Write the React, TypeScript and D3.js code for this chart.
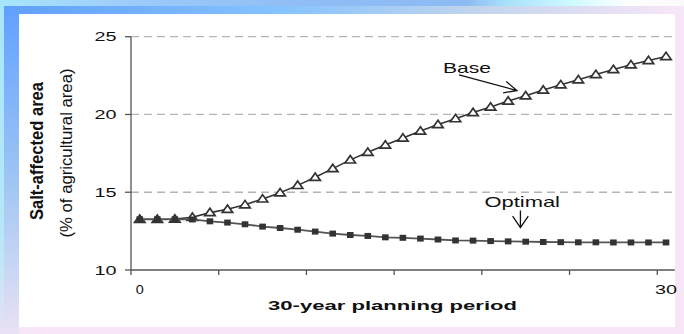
import React, { useRef, useEffect } from 'react';
import * as d3 from 'd3';

// 30-year planning period, one point per year
const periods = [0, 1, 2, 3, 4, 5, 6, 7, 8, 9, 10, 11, 12, 13, 14, 15, 16, 17, 18, 19, 20, 21, 22, 23, 24, 25, 26, 27, 28, 29, 30];

// salt-affected area, % of agricultural area
const baseValues = [
  13.26, 13.26, 13.28, 13.39, 13.69, 13.9, 14.2, 14.57, 14.97, 15.44, 15.96,
  16.52, 17.08, 17.57, 18.04, 18.49, 18.94, 19.35, 19.73, 20.12, 20.48,
  20.86, 21.2, 21.57, 21.91, 22.23, 22.57, 22.89, 23.2, 23.47, 23.73,
];
const optimalValues = [
  13.26, 13.26, 13.26, 13.25, 13.13, 13.05, 12.94, 12.79, 12.7, 12.59, 12.47,
  12.34, 12.25, 12.19, 12.1, 12.07, 12.02, 11.96, 11.9, 11.89, 11.86,
  11.84, 11.82, 11.8, 11.79, 11.78, 11.78, 11.77, 11.77, 11.77, 11.77,
];

const yTicks = [10, 15, 20, 25];
const gridValues = [15, 20, 25];
const xTickPeriods = [0, 5, 10, 15, 20, 25, 30];
const xTickLabels = ['0', '30'];
const xLabelPeriods = [0, 30];

// annotation arrows, in data units [period, value]
const baseArrow = { from: [18.2, 22.55], to: [21.5, 21.54] };
const optimalArrow = { from: [21.7, 13.82], to: [21.7, 12.72] };

const W = 684;
const H = 334;
const FONT = '"Liberation Sans", Arial, sans-serif';

export default function App() {
  const ref = useRef<SVGSVGElement>(null);

  useEffect(() => {
    if (!ref.current) return;
    const svg = d3.select(ref.current);
    svg.selectAll('*').remove();

    // --- slide background ---
    const defs = svg.append('defs');
    const grad = (id: string, stops: [number, string][], vertical = false) => {
      const g = defs.append('linearGradient').attr('id', id)
        .attr('x1', 0).attr('y1', 0)
        .attr('x2', vertical ? 0 : 1).attr('y2', vertical ? 1 : 0);
      stops.forEach(([o, c]) => g.append('stop').attr('offset', o).attr('stop-color', c));
    };
    grad('topLight', [[0, '#a8e6fb'], [0.2, '#9ccafa'], [0.45, '#8fbcf4'], [0.68, '#8cbaf2'], [0.74, '#a8e0fb'], [0.84, '#d0fbff'], [0.92, '#ffffff'], [1, '#fafafa']]);
    grad('topBand', [[0, '#60a0ff'], [0.4, '#84c2ff'], [0.7, '#c0d4ec'], [1, '#f7e6f8']]);
    grad('leftBand', [[0, '#64a2ff'], [0.5, '#9cc4f4'], [1, '#e8e2f4']], true);
    grad('leftEdge', [[0, '#a8e6fb'], [0.7, '#b4e8f8'], [1, '#e6e2f4']], true);

    svg.append('rect').attr('width', W).attr('height', H).attr('fill', '#f6e6f8');
    svg.append('rect').attr('width', W).attr('height', 6).attr('fill', 'url(#topLight)');
    svg.append('rect').attr('x', 4).attr('y', 6).attr('width', 672).attr('height', 8).attr('fill', 'url(#topBand)');
    svg.append('rect').attr('x', 4).attr('y', 14).attr('width', 15).attr('height', H - 14).attr('fill', 'url(#leftBand)');
    svg.append('rect').attr('x', 0).attr('y', 6).attr('width', 4).attr('height', H - 6).attr('fill', 'url(#leftEdge)');
    svg.append('rect').attr('x', 19).attr('y', 14).attr('width', 656).attr('height', 313).attr('fill', '#ffffff');

    // --- scales ---
    const x = d3.scaleBand<number>().domain(periods).range([131, 674.8]).padding(0);
    const cx = (p: number) => x(p)! + x.bandwidth() / 2;
    const px = (p: number) => 131 + (p + 0.5) * x.bandwidth();
    const y = d3.scaleLinear().domain([10, 25]).range([270, 36.7]);
    const x0 = 131;
    const x1 = 674.8;

    const g = svg.append('g');

    // gridlines
    g.selectAll('.grid').data(gridValues).enter().append('line')
      .attr('x1', x0).attr('x2', x1)
      .attr('y1', (d) => y(d)).attr('y2', (d) => y(d))
      .attr('stroke', '#b4b4b4').attr('stroke-width', 1.3)
      .attr('stroke-dasharray', '8,5');

    // axes
    g.append('line').attr('x1', x0).attr('x2', x0).attr('y1', y(25)).attr('y2', y(10))
      .attr('stroke', '#555').attr('stroke-width', 1.3);
    g.append('line').attr('x1', x0).attr('x2', x1).attr('y1', y(10)).attr('y2', y(10))
      .attr('stroke', '#555').attr('stroke-width', 1.3);

    g.selectAll('.ytick').data(yTicks).enter().append('line')
      .attr('x1', x0 - 6).attr('x2', x0)
      .attr('y1', (d) => y(d)).attr('y2', (d) => y(d))
      .attr('stroke', '#555').attr('stroke-width', 1.3);

    g.selectAll('.ylabel').data(yTicks).enter().append('text')
      .attr('x', 116.5).attr('y', (d) => y(d) + 4.6)
      .attr('text-anchor', 'end')
      .attr('font-family', FONT).attr('font-size', 12.5).attr('fill', '#111')
      .attr('textLength', 22).attr('lengthAdjust', 'spacingAndGlyphs')
      .text((d) => String(d));

    g.selectAll('.xtick').data(xTickPeriods).enter().append('line')
      .attr('x1', (d) => x(d)!).attr('x2', (d) => x(d)!)
      .attr('y1', y(10)).attr('y2', y(10) + 5)
      .attr('stroke', '#555').attr('stroke-width', 1.3);

    g.selectAll('.xlabel').data(xLabelPeriods).enter().append('text')
      .attr('x', (d) => cx(d)).attr('y', 293.5)
      .attr('text-anchor', 'middle')
      .attr('font-family', FONT).attr('font-size', 12.5).attr('fill', '#111')
      .attr('textLength', (d, i) => (xTickLabels[i].length > 1 ? 22 : 8))
      .attr('lengthAdjust', 'spacingAndGlyphs')
      .text((d, i) => xTickLabels[i]);

    // axis titles
    g.append('text')
      .attr('x', 392.5).attr('y', 310)
      .attr('text-anchor', 'middle')
      .attr('font-family', FONT).attr('font-size', 13).attr('font-weight', 'bold').attr('fill', '#111')
      .attr('textLength', 249).attr('lengthAdjust', 'spacingAndGlyphs')
      .text('30-year planning period');

    g.append('text')
      .attr('transform', 'translate(43,151) rotate(-90)')
      .attr('text-anchor', 'middle')
      .attr('font-family', FONT).attr('font-size', 18.5).attr('font-weight', 'bold').attr('fill', '#111')
      .attr('textLength', 138).attr('lengthAdjust', 'spacingAndGlyphs')
      .text('Salt-affected area');

    g.append('text')
      .attr('transform', 'translate(71.5,153) rotate(-90)')
      .attr('text-anchor', 'middle')
      .attr('font-family', FONT).attr('font-size', 16).attr('fill', '#111')
      .attr('textLength', 169).attr('lengthAdjust', 'spacingAndGlyphs')
      .text('(% of agricultural area)');

    // series lines
    const line = d3.line<number>().x((d, i) => cx(periods[i])).y((d) => y(d));

    g.append('path').attr('d', line(baseValues)).attr('fill', 'none')
      .attr('stroke', '#333').attr('stroke-width', 1.6);
    g.selectAll('.tri').data(baseValues).enter().append('path')
      .attr('transform', (d, i) => `translate(${cx(periods[i])},${y(d)})`)
      .attr('d', 'M0,-4.3L5.2,3.1L-5.2,3.1Z')
      .attr('fill', '#fff').attr('stroke', '#333').attr('stroke-width', 1.7)
      .attr('stroke-linejoin', 'miter');

    g.append('path').attr('d', line(optimalValues)).attr('fill', 'none')
      .attr('stroke', '#555').attr('stroke-width', 1.8);
    g.selectAll('.sq').data(optimalValues).enter().append('rect')
      .attr('x', (d, i) => cx(periods[i]) - 3.3).attr('y', (d) => y(d) - 3)
      .attr('width', 6.6).attr('height', 6)
      .attr('fill', '#333');

    // annotations
    const arrow = (a: { from: number[]; to: number[] }, half: number, len: number) => {
      const fx = px(a.from[0]);
      const fy = y(a.from[1]);
      const tx = px(a.to[0]);
      const ty = y(a.to[1]);
      const ang = Math.atan2(fy - ty, fx - tx);
      const h = (half * Math.PI) / 180;
      const b1 = [tx + len * Math.cos(ang + h), ty + len * Math.sin(ang + h)];
      const b2 = [tx + len * Math.cos(ang - h), ty + len * Math.sin(ang - h)];
      g.append('path')
        .attr('d', `M${fx},${fy}L${tx},${ty}M${b1[0]},${b1[1]}L${tx},${ty}L${b2[0]},${b2[1]}`)
        .attr('fill', 'none').attr('stroke', '#111').attr('stroke-width', 1.3);
    };
    arrow(baseArrow, 25, 14);
    arrow(optimalArrow, 34, 14);

    g.append('text')
      .attr('x', 443).attr('y', 73)
      .attr('font-family', FONT).attr('font-size', 14.5).attr('fill', '#111')
      .attr('textLength', 48).attr('lengthAdjust', 'spacingAndGlyphs')
      .text('Base');

    g.append('text')
      .attr('x', 484.5).attr('y', 207)
      .attr('font-family', FONT).attr('font-size', 14.5).attr('fill', '#111')
      .attr('textLength', 75.5).attr('lengthAdjust', 'spacingAndGlyphs')
      .text('Optimal');
  }, []);

  return (
    <svg
      ref={ref}
      width={W}
      height={H}
      style={{ position: 'absolute', left: 0, top: 0, display: 'block' }}
    />
  );
}
